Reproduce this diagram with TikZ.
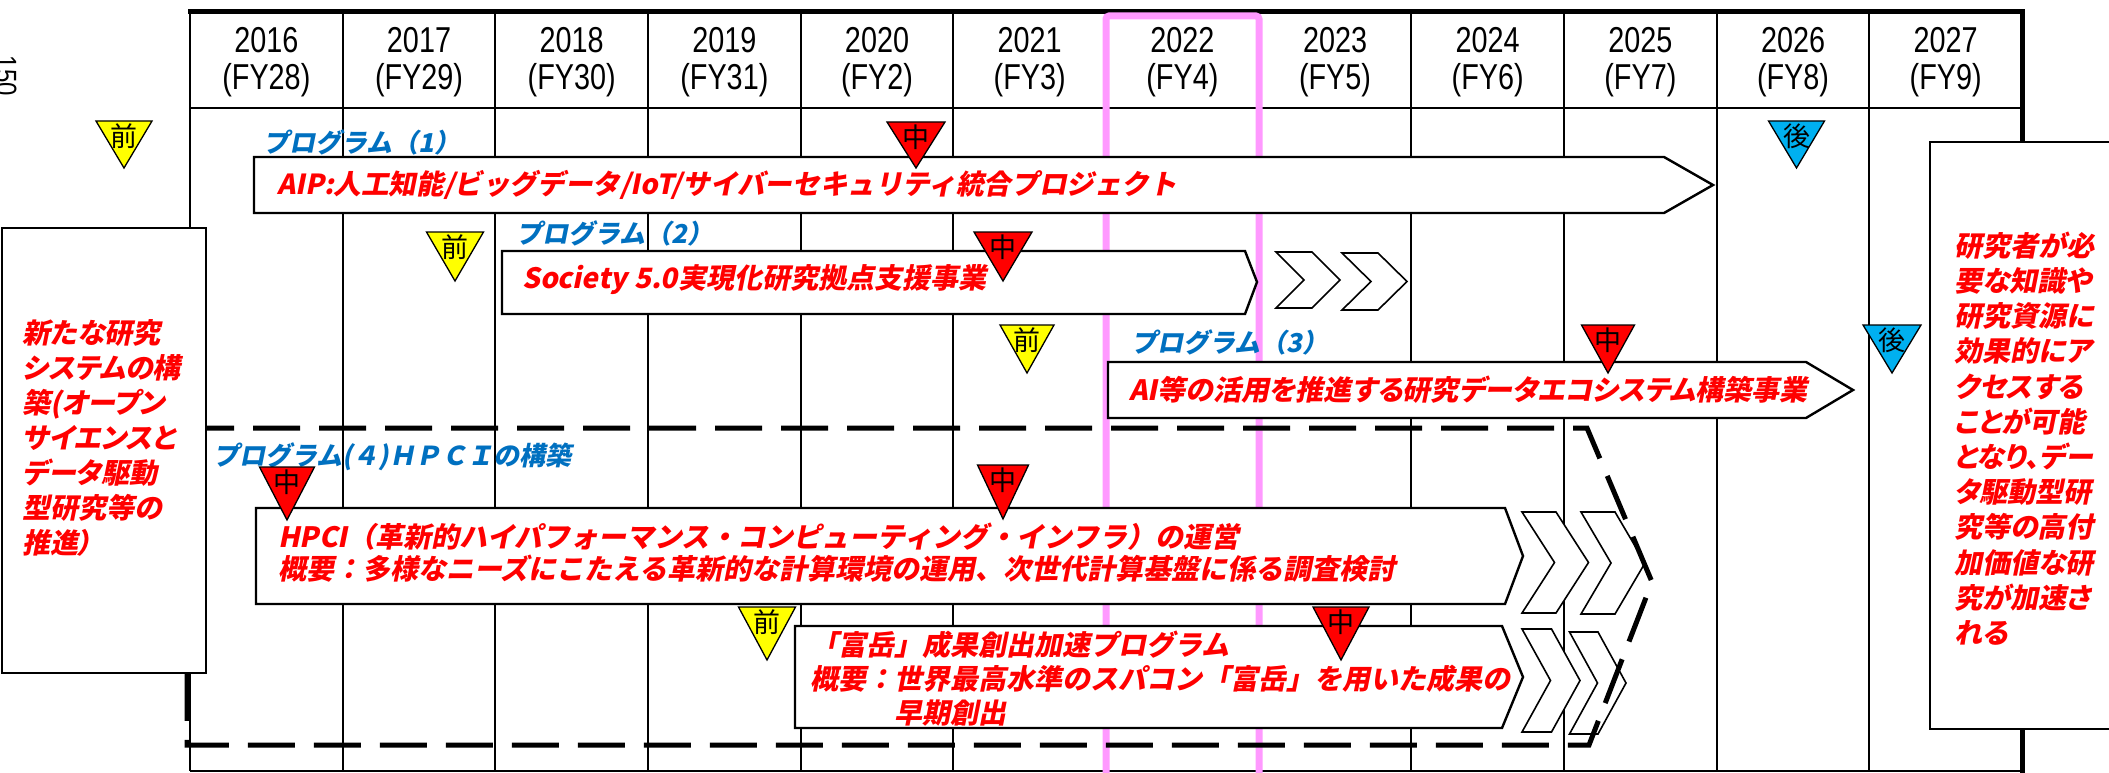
\documentclass[tikz,border=0pt]{standalone}
\usepackage{fontspec}
\newfontfamily\jpfont[FakeSlant=0.2,RawFeature=+palt]{Noto Sans CJK JP}
\newfontfamily\jpfontw[FakeSlant=0.2]{Noto Sans CJK JP}
\newfontfamily\jpup{Noto Sans CJK JP}
\newfontfamily\yrfont[FakeStretch=0.8]{Liberation Sans}
\definecolor{mkyellow}{HTML}{FFFF00}
\definecolor{mkred}{HTML}{FF0000}
\definecolor{mkblue}{HTML}{00B0F0}
\definecolor{lblue}{HTML}{0070C0}
\definecolor{pinkline}{HTML}{FF99FF}
\tikzset{
  gridline/.style={line width=2pt, black},
  boxline/.style={draw=black, line width=2.4pt, fill=white, line join=miter},
  chev/.style={draw=black, line width=1.6pt, fill=white, line join=miter},
  dashbox/.style={line width=5pt, dash pattern=on 47pt off 19pt},
  redtxt/.style={text=mkred, font={\jpfont\bfseries\fontsize{28}{34}\selectfont}, inner sep=0pt, anchor=west, align=left},
  redwide/.style={text=mkred, font={\jpfontw\bfseries\fontsize{28}{34}\selectfont}, inner sep=0pt, anchor=west, align=left},
  bluetxt/.style={text=lblue, font={\jpfontw\bfseries\fontsize{26}{30}\selectfont}, inner sep=0pt, anchor=west},
  yeartxt/.style={font={\yrfont\fontsize{36}{40}\selectfont}, inner sep=0pt},
  marktext/.style={font={\jpup\fontsize{27}{27}\selectfont}, inner sep=0pt},
}
\newcommand{\mychev}[5]{%
  \draw[chev] (#1,#2) -- ({#1+#4},#2) -- ({#1+#4+#5},{(#2+#3)/2}) -- ({#1+#4},#3) -- (#1,#3) -- ({#1+#5},{(#2+#3)/2}) -- cycle;}
\newcommand{\mymark}[7]{%
  \draw[fill=#6, line width=1.3pt, line join=miter] ({#2-#5},#3) -- ({#2+#5},#3) -- (#2,{#3+#4}) -- cycle;
  \node[marktext] (#1) at (#2,{#3+15}) {#7};}
\begin{document}
\begin{tikzpicture}[x=1pt,y=-1pt]
\useasboundingbox[fill=white] (0,0) rectangle (2109,773);
% grid
\foreach \i in {0,...,12} \draw[gridline] ({190+152.67*\i},12) -- ({190+152.67*\i},771);
\draw[gridline] (190,108) -- (2022,108);
\draw[gridline] (190,771) -- (2022,771);
\draw[line width=5pt] (188,11.5) -- (2024.5,11.5);
\draw[line width=5pt] (2022,11.5) -- (2022,773);
\foreach \yr/\fy [count=\i from 0] in {2016/FY28,2017/FY29,2018/FY30,2019/FY31,2020/FY2,2021/FY3,2022/FY4,2023/FY5,2024/FY6,2025/FY7,2026/FY8,2027/FY9}{
  \node[yeartxt] (yr\i) at ({190+152.67*(\i+0.5)},40) {\yr};
  \node[yeartxt] (fy\i) at ({190+152.67*(\i+0.5)},80) {(\fy)};
}
\node[yeartxt, font={\yrfont\fontsize{30}{30}\selectfont}, rotate=-90] (pg) at (6,76) {150};
% current year frame
\draw[pinkline, line width=7pt, rounded corners=3pt] (1106,16) rectangle (1259,800);
% boxes
\draw[boxline] (254,157) -- (1664,157) -- (1713,185) -- (1664,213) -- (254,213) -- cycle;
\draw[boxline] (502,251) -- (1245,251) -- (1257,282) -- (1245,314) -- (502,314) -- cycle;
\draw[boxline] (1108,362) -- (1806,362) -- (1853,390) -- (1806,418) -- (1108,418) -- cycle;
\draw[boxline] (256,508) -- (1505,508) -- (1523,556) -- (1505,604) -- (256,604) -- cycle;
\draw[boxline] (795,626) -- (1502,626) -- (1523,677) -- (1502,728) -- (795,728) -- cycle;
\mychev{1276}{252}{308}{36}{28}
\mychev{1342}{253}{310}{36}{29}
\mychev{1522}{512}{613}{34}{32.5}
\mychev{1581}{512}{614}{34}{30}
\mychev{1522}{629}{732}{29.5}{28.5}
\mychev{1569.5}{632}{734}{28.5}{28}
% dashed frame of programme 4
\draw[dashbox] (187,428) -- (1587,428) -- (1652,582) -- (1589,745) -- (187,745) -- cycle;
% side boxes
\draw[boxline] (2,228) rectangle (206,673);
\draw[boxline] (1930,142) rectangle (2130,729);
% labels
\node[bluetxt] (p1) at (263,142) {プログラム（1）};
\node[bluetxt] (p2) at (516,233) {プログラム（2）};
\node[bluetxt] (p3) at (1131,342) {プログラム（3）};
\node[bluetxt] (p4) at (213,457) {プログラム(４)ＨＰＣＩの構築};
\node[redwide, font={\jpfontw\bfseries\fontsize{27.6}{34}\selectfont}] (aip) at (277,185) {AIP:人工知能/ビッグデータ/IoT/サイバーセキュリティ統合プロジェクト};
\node[redtxt] (soc) at (522,280) {Society 5.0実現化研究拠点支援事業};
\node[redtxt] (ai) at (1129,390) {AI等の活用を推進する研究データエコシステム構築事業};
\node[redwide, font={\jpfontw\bfseries\fontsize{28}{32}\selectfont}] (hpci) at (278,553) {HPCI（革新的ハイパフォーマンス・コンピューティング・インフラ）の運営\\概要：多様なニーズにこたえる革新的な計算環境の運用、次世代計算基盤に係る調査検討};
\node[redwide, font={\jpfontw\bfseries\fontsize{28}{34}\selectfont}] (fug) at (810,679) {「富岳」成果創出加速プログラム\\概要：世界最高水準のスパコン「富岳」を用いた成果の\\\hspace*{84pt}早期創出};
\node[redtxt, font={\jpfont\bfseries\fontsize{28}{35}\selectfont}] (goal) at (22,438) {新たな研究\\システムの構\\築(オープン\\サイエンスと\\データ駆動\\型研究等の\\推進）};
\node[redtxt, font={\jpfont\bfseries\fontsize{28}{35.2}\selectfont}] (out) at (1954,438.5) {研究者が必\\要な知識や\\研究資源に\\効果的にア\\クセスする\\ことが可能\\となり、デー\\タ駆動型研\\究等の高付\\加価値な研\\究が加速さ\\れる};
% review markers
\mymark{m1}{124}{121}{47}{28}{mkyellow}{前}
\mymark{m2}{916}{122}{46}{29}{mkred}{中}
\mymark{m3}{1796.5}{121}{47}{28}{mkblue}{後}
\mymark{m4}{455}{232}{49}{28.5}{mkyellow}{前}
\mymark{m5}{1003}{232}{49}{29}{mkred}{中}
\mymark{m6}{1027}{325}{48}{27}{mkyellow}{前}
\mymark{m7}{1608}{325}{48}{26.5}{mkred}{中}
\mymark{m8}{1892}{325}{48}{29}{mkblue}{後}
\mymark{m9}{287}{467}{53}{27.5}{mkred}{中}
\mymark{m10}{1003}{465}{54}{25.5}{mkred}{中}
\mymark{m11}{767}{607}{53}{28.5}{mkyellow}{前}
\mymark{m12}{1341}{607}{53}{28}{mkred}{中}
\end{tikzpicture}
\end{document}
